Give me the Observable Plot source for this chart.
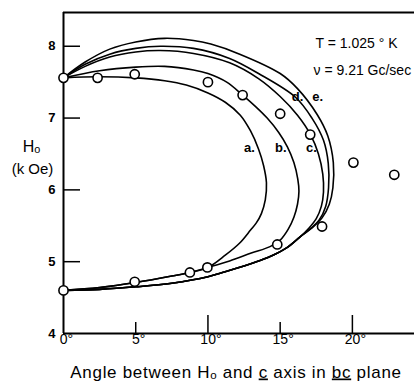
<!DOCTYPE html>
<html><head><meta charset="utf-8">
<script src="https://cdn.jsdelivr.net/npm/d3@7"></script>
<script src="https://cdn.jsdelivr.net/npm/@observablehq/plot@0.6"></script>
<style>body{margin:0;background:#fff} svg{display:block}</style>
</head><body><div id="chart"></div>
<script>
// ---- data ----
const xTicks = [0, 5, 10, 15, 20];
const xMajorTicks = [10, 20];
const xMinorTicks = [5, 15];
const yTicks = [4, 5, 6, 7, 8];
const yInnerTicks = [5, 6, 7, 8];
const xDomain = [0, 24.3];
const yDomain = [4, 8.47];

const obsAngle = [0, 0, 2.36, 4.93, 10.0, 12.4, 15.0, 17.08, 20.07, 22.9, 17.9, 14.8, 9.96, 8.75, 4.93];
const obsField = [7.56, 4.60, 7.56, 7.61, 7.50, 7.32, 7.06, 6.77, 6.38, 6.21, 5.49, 5.24, 4.92, 4.85, 4.72];

const aAngle = [0, 2.4, 5, 7, 8.5, 10, 11.2, 12.24, 12.95, 13.5, 13.85, 14.05, 13.97, 13.7, 13.35, 12.95, 12.2, 11.2, 10.0, 8.75, 7.5, 5, 2.5, 0];
const aField = [7.56, 7.575, 7.56, 7.52, 7.46, 7.35, 7.22, 7.04, 6.82, 6.57, 6.34, 6.10, 5.86, 5.67, 5.54, 5.44, 5.26, 5.09, 4.92, 4.85, 4.80, 4.71, 4.64, 4.60];

const bAngle = [0, 2.5, 5, 7, 9, 10, 11.3, 12.4, 13.3, 14.1, 14.9, 15.5, 15.95, 16.22, 16.3, 16.2, 15.95, 15.55, 15.0, 14.3, 13.0, 11.5, 10.0, 8.75, 7.5, 5, 2.5, 0];
const bField = [7.56, 7.66, 7.71, 7.72, 7.67, 7.62, 7.50, 7.32, 7.16, 7.00, 6.80, 6.60, 6.38, 6.15, 5.98, 5.80, 5.62, 5.45, 5.30, 5.21, 5.12, 5.01, 4.92, 4.85, 4.80, 4.71, 4.64, 4.60];

const cAngle = [0, 1.5, 3.2, 5, 6.7, 9, 11.5, 13.5, 15.0, 16.2, 17.1, 17.65, 17.95, 18.0, 17.85, 17.5, 17.0, 16.4, 15.5, 14.5, 13.5, 12.5, 11, 10, 7.5, 5, 2.5, 0];
const cField = [7.56, 7.72, 7.85, 7.92, 7.94, 7.90, 7.77, 7.55, 7.30, 7.04, 6.77, 6.50, 6.22, 5.97, 5.77, 5.60, 5.47, 5.35, 5.20, 5.09, 5.01, 4.94, 4.85, 4.79, 4.70, 4.65, 4.615, 4.60];

const dAngle = [0, 1.5, 3.2, 5, 6.7, 9, 11.5, 13.5, 16.06, 17.2, 18.0, 18.33, 18.35, 18.15, 17.7, 17.1, 16.4, 15.5, 14.5, 13.5, 12.5, 11, 10, 7.5, 5, 2.5, 0];
const dField = [7.56, 7.75, 7.89, 7.97, 8.00, 7.97, 7.83, 7.62, 7.29, 7.00, 6.69, 6.37, 6.03, 5.77, 5.58, 5.46, 5.35, 5.20, 5.09, 5.01, 4.94, 4.85, 4.79, 4.70, 4.65, 4.615, 4.60];

const eAngle = [0, 1.5, 3.2, 5, 7, 9, 10.2, 12.2, 15.0, 16.2, 17.56, 18.3, 18.68, 18.65, 18.4, 17.9, 17.2, 16.4, 15.5, 14.5, 13.5, 12.5, 11, 10, 7.5, 5, 2.5, 0];
const eField = [7.56, 7.78, 7.96, 8.06, 8.11, 8.08, 8.03, 7.89, 7.62, 7.41, 7.05, 6.75, 6.38, 6.03, 5.80, 5.61, 5.47, 5.35, 5.20, 5.09, 5.01, 4.94, 4.85, 4.79, 4.70, 4.65, 4.615, 4.60];

const curveNames = ["a.", "b.", "c.", "d.", "e."];
const labelAngle = [12.87, 15.05, 17.17, 16.2, 17.6];
const labelField = [6.58, 6.58, 6.58, 7.29, 7.29];

const annotations = ["T = 1.025 ° K", "ν = 9.21 Gc/sec"];
const yLabelLines = ["Hₒ", "(k Oe)"];
const xTitle = "Angle between Hₒ and c axis in bc plane";

// ---- build ----
const W = 414, H = 385;
const mTop = 12, mRight = 0, mBottom = 52, mLeft = 63;
const plotW = W - mLeft - mRight, plotH = H - mTop - mBottom;

const series = (name, xs, ys) => xs.map((x, i) => ({curve: name, angle: x, field: ys[i]}));
const curveRows = [
  ...series("a", aAngle, aField),
  ...series("b", bAngle, bField),
  ...series("c", cAngle, cField),
  ...series("d", dAngle, dField),
  ...series("e", eAngle, eField)
];
const obs = obsAngle.map((a, i) => ({angle: a, field: obsField[i]}));
const labels = curveNames.map((t, i) => ({t, angle: labelAngle[i], field: labelField[i]}));

const font = "'Liberation Sans', 'DejaVu Sans', sans-serif";

const chart = Plot.plot({
  width: W, height: H,
  marginTop: mTop, marginRight: mRight, marginBottom: mBottom, marginLeft: mLeft,
  x: {domain: xDomain, axis: null},
  y: {domain: yDomain, axis: null},
  style: {fontFamily: font, background: "#fff", color: "#000", overflow: "visible"},
  marks: [
    Plot.ruleY([yDomain[1]], {strokeWidth: 2}),
    Plot.ruleY([yDomain[0]], {strokeWidth: 2}),
    Plot.ruleX([xDomain[0]], {strokeWidth: 2}),
    Plot.tickY(yInnerTicks, {y: d => d, insetRight: plotW - 17, strokeWidth: 1.5}),
    Plot.tickX(xMajorTicks, {x: d => d, insetTop: plotH - 18, strokeWidth: 1.5}),
    Plot.tickX(xMinorTicks, {x: d => d, insetTop: plotH - 11, strokeWidth: 1.5}),
    Plot.line(curveRows, {x: "angle", y: "field", z: "curve", curve: "catmull-rom", stroke: "#000", strokeWidth: 1.6}),
    Plot.dot(obs, {x: "angle", y: "field", r: 4.6, fill: "white", stroke: "#000", strokeWidth: 1.6}),
    Plot.text(labels, {x: "angle", y: "field", text: "t", fontSize: 13, fontWeight: "bold"}),
    Plot.text(yTicks, {y: d => d, frameAnchor: "left", dx: -8, textAnchor: "end", fontSize: 13, fontWeight: "bold"}),
    Plot.text(xTicks, {x: d => d, frameAnchor: "bottom", dy: 10, dx: 3, text: d => `${d}°`, fontSize: 14}),
    Plot.text([annotations[0]], {frameAnchor: "top-right", textAnchor: "start", dx: -99, dy: 26, fontSize: 14}),
    Plot.text([annotations[1]], {frameAnchor: "top-right", textAnchor: "start", dx: -101, dy: 53, fontSize: 14}),
    Plot.text([yLabelLines[0]], {frameAnchor: "left", textAnchor: "middle", dx: -32, dy: -26, fontSize: 16}),
    Plot.text([yLabelLines[1]], {frameAnchor: "left", textAnchor: "middle", dx: -31, dy: -4, fontSize: 15}),
    Plot.text([xTitle], {frameAnchor: "bottom", dy: 44, dx: -3, fontSize: 17})
  ]
});

// underline "c" and "bc" in the x title
d3.select(chart).selectAll("text").filter(function() { return this.textContent === xTitle; })
  .each(function() {
    const t = d3.select(this);
    t.text(null).style("letter-spacing", "0.7px");
    const parts = [["Angle between Hₒ and ", false], ["c", true], [" axis in ", false], ["bc", true], [" plane", false]];
    for (const [s, u] of parts) {
      const sp = t.append("tspan").text(s);
      if (u) sp.attr("text-decoration", "underline").style("text-decoration", "underline");
    }
  });

document.getElementById("chart").append(chart);
</script>
</body></html>
